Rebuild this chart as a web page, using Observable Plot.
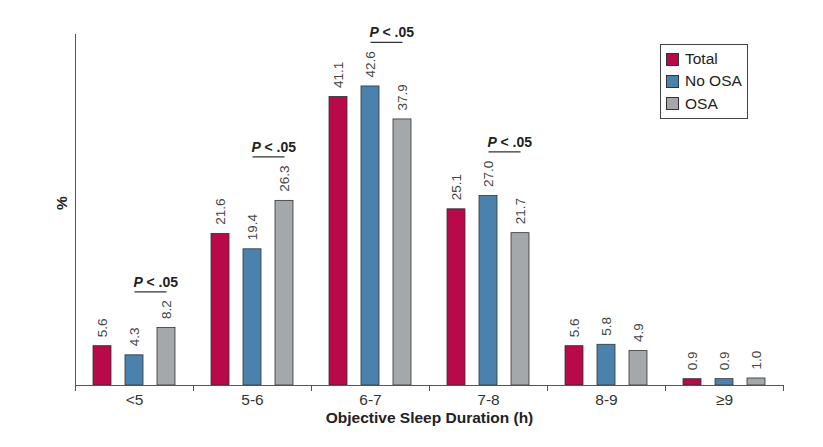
<!DOCTYPE html>
<html>
<head>
<meta charset="utf-8">
<script src="https://cdn.jsdelivr.net/npm/d3@7"></script>
<script src="https://cdn.jsdelivr.net/npm/@observablehq/plot@0.6"></script>
<style>
  body { margin: 0; background: #fff; font-family: "Liberation Sans", Arial, sans-serif; }
  #wrap { position: relative; width: 823px; height: 447px; }
  #legend { position: absolute; left: 660px; top: 44px; width: 86px; height: 73px;
    border: 1px solid #444; box-sizing: content-box; font-size: 15.5px; color: #222; }
  #legend .item { position: absolute; left: 5px; display: flex; align-items: center; height: 18px; }
  #legend .sw { width: 11px; height: 11px; border: 1px solid #333; margin-right: 6px; }
</style>
</head>
<body>
<div id="wrap"><div id="chart"></div><div id="legend"></div></div>
<script>
// ---- data ----
const groups = ["<5", "5-6", "6-7", "7-8", "8-9", "≥9"];
const series = ["Total", "No OSA", "OSA"];
const totalValues = [5.6, 21.6, 41.1, 25.1, 5.6, 0.9];
const noOsaValues = [4.3, 19.4, 42.6, 27.0, 5.8, 0.9];
const osaValues   = [8.2, 26.3, 37.9, 21.7, 4.9, 1.0];
const significantGroups = ["<5", "5-6", "6-7", "7-8"];
const pLabel = "< .05";
const colors = ["#B8094B", "#4A82AD", "#A4A8AB"];
const xTitle = "Objective Sleep Duration (h)";
const yTitle = "%";

// ---- build table ----
const seriesValues = [totalValues, noOsaValues, osaValues];
const rows = [];
groups.forEach((g, i) => series.forEach((s, j) => rows.push({group: g, series: s, value: seriesValues[j][i]})));

const annotations = significantGroups.map(g => {
  const i = groups.indexOf(g);
  const ref = Math.max(noOsaValues[i], osaValues[i]);
  return {group: g, ref, len: ref.toFixed(1).length};
});

const W = 823, H = 447, mT = 34, mB = 62, mL = 75, mR = 40;
const plotH = H - mT - mB;
const axisColor = "#555";

const annoMarks = annotations.flatMap(a => {
  const off = 12 + 8 * a.len;
  return [
    Plot.link([a], {fx: "group", x1: () => "No OSA", x2: () => "OSA", y1: "ref", y2: "ref",
      dy: -off, stroke: "#333", strokeWidth: 1.3}),
    Plot.text([a], {fx: "group", x: () => "No OSA", y: "ref", text: () => "P",
      textAnchor: "start", lineAnchor: "bottom", dx: -1, dy: -off - 5,
      fontSize: 14, fontWeight: "bold", fontStyle: "italic", fill: "#222"}),
    Plot.text([a], {fx: "group", x: () => "No OSA", y: "ref", text: () => pLabel,
      textAnchor: "start", lineAnchor: "bottom", dx: 12, dy: -off - 5,
      fontSize: 14, fontWeight: "bold", fill: "#222"})
  ];
});

const chart = Plot.plot({
  width: W, height: H,
  marginTop: mT, marginBottom: mB, marginLeft: mL, marginRight: mR,
  style: {fontFamily: "'Liberation Sans', Arial, sans-serif", fontSize: "14px", color: "#333", background: "white"},
  fx: {domain: groups, padding: 0, axis: null},
  x: {domain: series, paddingInner: 0.45, paddingOuter: 0.52, axis: null},
  y: {domain: [0, 50], axis: null},
  color: {domain: series, range: colors},
  marks: [
    Plot.barY(rows, {fx: "group", x: "series", y: "value", fill: "series", stroke: "#333", strokeWidth: 0.8}),
    Plot.text(rows, {fx: "group", x: "series", y: "value", text: d => d.value.toFixed(1),
      rotate: -90, textAnchor: "start", dy: -9, fontSize: 13.5, fill: "#444"}),
    ...annoMarks,
    Plot.frame({anchor: "bottom", stroke: axisColor}),
    Plot.frame({anchor: "left", insetTop: plotH, insetBottom: -5, stroke: axisColor}),
    Plot.frame({anchor: "right", insetTop: plotH, insetBottom: -5, stroke: axisColor}),
    Plot.frame({anchor: "left", facetAnchor: "left", stroke: axisColor}),
    Plot.axisFx({anchor: "bottom", tickSize: 0, tickPadding: 8, label: null, fontSize: 15.5, fill: "#333"}),
    Plot.text([yTitle], {frameAnchor: "left", facetAnchor: "left", rotate: -90, dx: -13,
      fontSize: 15.5, fontWeight: "bold", fill: "#222"}),
    Plot.text([xTitle], {facet: "super", frameAnchor: "bottom", dy: 37,
      fontSize: 15.5, fontWeight: "bold", fill: "#222"})
  ]
});
document.getElementById("chart").appendChild(chart);

// legend
const legend = document.getElementById("legend");
series.forEach((s, i) => {
  const item = document.createElement("div");
  item.className = "item";
  item.style.top = (5 + i * 22.3) + "px";
  item.innerHTML = `<span class="sw" style="background:${colors[i]}"></span><span>${s}</span>`;
  legend.appendChild(item);
});
</script>
</body>
</html>
